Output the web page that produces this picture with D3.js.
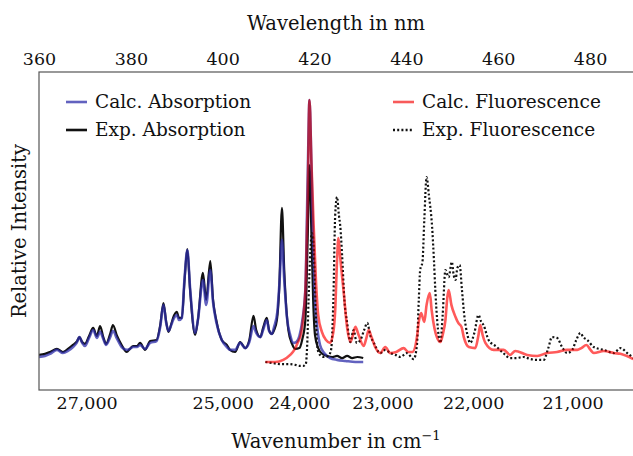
<!DOCTYPE html>
<html>
<head>
<meta charset="utf-8">
<script src="https://cdn.jsdelivr.net/npm/d3@7"></script>
<style>
  body { margin: 0; background: #fff; }
  text { font-family: "DejaVu Serif", serif; fill: #111; }
</style>
</head>
<body>
<div id="chart"></div>
<script>
// wavelength (nm), relative intensity
const expAbsorption = [
  [360.0,0.027],[361.3,0.031],[362.4,0.038],[363.9,0.050],[365.2,0.038],[366.3,0.050],[367.4,0.065],
  [368.3,0.080],[368.8,0.095],[369.4,0.076],[370.0,0.069],[370.9,0.099],[371.8,0.130],[372.6,0.099],
  [373.3,0.137],[374.0,0.095],[374.6,0.069],[375.5,0.107],[376.1,0.141],[377.0,0.099],[378.0,0.065],
  [379.1,0.038],[379.8,0.050],[380.5,0.061],[381.4,0.061],[382.0,0.073],[383.1,0.046],[384.2,0.080],
  [385.6,0.084],[386.4,0.141],[387.1,0.225],[387.7,0.153],[388.2,0.115],[388.8,0.145],[389.2,0.168],
  [390.0,0.191],[390.5,0.168],[391.1,0.168],[391.7,0.313],[392.3,0.431],[392.9,0.275],[394.0,0.103],
  [394.6,0.160],[395.7,0.340],[396.4,0.237],[397.3,0.385],[397.9,0.237],[398.6,0.160],[399.8,0.084],
  [400.9,0.065],[401.6,0.046],[402.7,0.038],[403.8,0.076],[404.9,0.053],[405.8,0.084],[406.7,0.176],
  [407.3,0.122],[408.2,0.095],[408.8,0.130],[409.6,0.168],[410.1,0.122],[410.7,0.107],[411.2,0.122],
  [411.8,0.160],[412.3,0.275],[412.9,0.588],[413.4,0.351],[414.3,0.122],[415.1,0.069],[415.8,0.050],
  [416.7,0.053],[417.3,0.084],[418.0,0.160],[418.5,0.466],[418.9,0.752],[419.3,0.504],[419.7,0.237],
  [420.1,0.103],[420.8,0.053],[421.7,0.031],[422.8,0.023],[423.9,0.019],[424.9,0.023],[426.0,0.015],
  [427.1,0.023],[428.2,0.015],[429.3,0.019],[430.6,0.015]
];

const calcAbsorption = [
  [360.0,0.019],[361.3,0.023],[362.4,0.031],[363.9,0.046],[365.2,0.034],[366.3,0.042],[367.4,0.057],
  [368.2,0.073],[368.8,0.095],[369.4,0.073],[370.0,0.061],[370.9,0.092],[371.8,0.122],[372.6,0.092],
  [373.3,0.115],[374.0,0.088],[374.6,0.065],[375.5,0.095],[376.1,0.118],[377.0,0.088],[378.0,0.057],
  [379.1,0.046],[379.8,0.050],[380.5,0.057],[381.4,0.057],[382.0,0.065],[383.1,0.050],[384.2,0.073],
  [385.6,0.080],[386.4,0.134],[387.1,0.218],[387.7,0.149],[388.2,0.118],[388.8,0.141],[389.2,0.160],
  [390.0,0.179],[390.5,0.160],[391.1,0.168],[391.7,0.321],[392.3,0.427],[392.9,0.282],[394.0,0.111],
  [394.6,0.160],[395.7,0.313],[396.4,0.218],[397.3,0.351],[397.9,0.229],[398.6,0.153],[399.8,0.084],
  [400.9,0.057],[401.6,0.046],[402.7,0.046],[403.8,0.073],[404.9,0.053],[405.8,0.076],[406.7,0.137],
  [407.3,0.111],[408.2,0.095],[408.8,0.122],[409.6,0.160],[410.1,0.118],[410.7,0.107],[411.2,0.134],
  [411.9,0.191],[412.4,0.313],[412.9,0.466],[413.4,0.313],[414.0,0.168],[414.7,0.103],[415.4,0.073],
  [416.0,0.076],[416.7,0.099],[417.3,0.153],[418.0,0.275],[418.5,0.695],[418.9,1.000],[419.3,0.771],
  [419.7,0.466],[420.1,0.237],[420.6,0.130],[421.2,0.065],[422.1,0.034],[423.4,0.015],[424.9,0.008],
  [426.7,0.004],[428.9,0.000],[430.6,0.000]
];

const calcFluorescence = [
  [409.3,0.000],[411.4,0.000],[413.2,0.008],[414.7,0.027],[415.6,0.046],[416.4,0.076],[417.1,0.111],
  [417.6,0.179],[418.1,0.313],[418.5,0.618],[418.9,1.000],[419.3,0.771],[419.8,0.523],[420.3,0.313],
  [420.8,0.179],[421.6,0.115],[422.5,0.084],[423.4,0.073],[424.1,0.115],[424.5,0.198],[424.9,0.389],
  [425.2,0.473],[425.6,0.397],[426.3,0.275],[427.1,0.130],[427.8,0.076],[428.3,0.099],[428.9,0.134],
  [429.6,0.103],[430.7,0.061],[431.3,0.092],[431.8,0.122],[432.4,0.095],[433.2,0.057],[434.3,0.034],
  [435.4,0.057],[436.5,0.034],[437.8,0.038],[439.4,0.053],[440.4,0.038],[441.3,0.038],[442.3,0.095],
  [442.7,0.153],[443.2,0.187],[443.9,0.153],[444.4,0.218],[445.1,0.263],[445.5,0.198],[446.1,0.130],
  [446.7,0.092],[447.4,0.076],[448.0,0.111],[448.5,0.160],[448.9,0.244],[449.2,0.275],[449.8,0.218],
  [450.7,0.172],[451.3,0.149],[452.0,0.134],[452.5,0.095],[453.6,0.057],[455.0,0.053],[455.7,0.103],
  [456.1,0.141],[456.6,0.103],[457.2,0.073],[459.0,0.046],[461.2,0.046],[462.6,0.027],[463.7,0.042],
  [466.3,0.027],[468.5,0.023],[470.6,0.034],[472.8,0.038],[475.0,0.046],[477.2,0.046],[478.1,0.053],
  [479.2,0.065],[480.1,0.046],[480.8,0.034],[483.0,0.042],[485.2,0.034],[486.6,0.031],[489.4,0.011]
];

const expFluorescence = [
  [409.3,0.000],[410.8,-0.004],[412.5,-0.008],[414.3,-0.008],[415.8,-0.011],[416.9,-0.015],[417.5,-0.015],
  [418.1,-0.008],[418.4,0.065],[418.7,0.237],[419.1,0.427],[419.4,0.492],[419.7,0.473],[420.0,0.351],
  [420.4,0.122],[420.7,0.046],[421.2,0.027],[422.1,0.019],[423.0,0.023],[423.6,0.046],[424.1,0.237],
  [424.5,0.561],[424.9,0.630],[425.3,0.561],[425.6,0.519],[426.0,0.408],[426.5,0.237],[427.1,0.149],
  [427.8,0.076],[428.5,0.122],[429.2,0.073],[430.0,0.084],[430.8,0.122],[431.5,0.149],[432.1,0.103],
  [432.9,0.073],[434.3,0.034],[435.4,0.046],[436.5,0.034],[437.6,0.027],[438.7,0.019],[440.1,0.034],
  [441.6,0.011],[442.3,0.065],[442.7,0.237],[443.0,0.351],[443.5,0.382],[443.9,0.542],[444.4,0.706],
  [444.9,0.637],[445.6,0.515],[446.0,0.389],[446.3,0.275],[446.7,0.160],[447.4,0.073],[447.9,0.179],
  [448.5,0.351],[449.2,0.324],[449.9,0.382],[450.3,0.332],[450.7,0.313],[451.1,0.359],[451.6,0.370],
  [452.1,0.275],[452.6,0.179],[453.3,0.103],[453.9,0.073],[454.8,0.111],[455.7,0.179],[456.3,0.153],
  [456.8,0.141],[457.9,0.084],[459.7,0.057],[461.1,0.034],[462.6,0.015],[463.9,0.015],[465.5,0.019],
  [467.0,0.011],[468.5,0.008],[469.9,0.008],[470.9,0.053],[471.7,0.095],[472.8,0.092],[473.9,0.057],
  [475.0,0.034],[476.1,0.046],[477.0,0.084],[477.9,0.111],[478.5,0.095],[479.4,0.084],[480.8,0.057],
  [483.0,0.046],[485.2,0.034],[486.6,0.053],[488.1,0.034],[489.4,0.015]
];

const wavelengthTicks = [360, 380, 400, 420, 440, 460, 480];
const wavenumberTicks = [27000, 25000, 24000, 23000, 22000, 21000];

const width = 633, height = 456;
const margin = {left: 39, top: 72, bottom: 390, right: 636};

const svg = d3.select("#chart").append("svg")
    .attr("width", width)
    .attr("height", height);

const x = d3.scaleLinear().domain([360, 490]).range([margin.left, margin.right]);
const y = d3.scaleLinear().domain([-0.107, 1.107]).range([margin.bottom, margin.top]);

svg.append("clipPath").attr("id", "plot-clip")
  .append("rect")
    .attr("x", margin.left).attr("y", margin.top)
    .attr("width", margin.right - margin.left)
    .attr("height", margin.bottom - margin.top);

// top axis: wavelength
let topAxis = svg.append("g")
    .attr("transform", "translate(0," + margin.top + ")")
    .call(d3.axisTop(x).tickValues(wavelengthTicks).tickSize(-5).tickPadding(7));

// bottom axis: wavenumber, placed at 1e7 / wn on the wavelength scale
let bottomAxis = svg.append("g")
    .attr("transform", "translate(0," + margin.bottom + ")")
    .call(d3.axisBottom(x)
        .tickValues(wavenumberTicks.map(d => 1e7 / d))
        .tickFormat(d => d3.format(",")(Math.round(1e7 / d)))
        .tickSize(-5).tickPadding(7));

[topAxis, bottomAxis].forEach(g => {
    g.select(".domain").remove();
    g.selectAll(".tick line").attr("stroke", "#c4c4c4").attr("stroke-width", 1);
    g.selectAll(".tick text")
        .attr("font-family", "DejaVu Serif")
        .attr("font-size", 17.5)
        .attr("fill", "#111");
});

const line = d3.line()
    .x(d => x(d[0]))
    .y(d => y(d[1]))
    .curve(d3.curveMonotoneX);

const blue = "rgb(45,45,170)";
const red = "rgb(186,45,45)";   // hard-light: salmon on white, crimson where it crosses the blue

let plot = svg.append("g").attr("clip-path", "url(#plot-clip)");

// white backdrop inside the clipped group, the blend needs it
plot.append("rect")
    .attr("x", margin.left).attr("y", margin.top)
    .attr("width", margin.right - margin.left)
    .attr("height", margin.bottom - margin.top)
    .attr("fill", "#fff");

plot.append("path").datum(expAbsorption)
    .attr("d", line)
    .attr("fill", "none")
    .attr("stroke", "#111")
    .attr("stroke-width", 2.2);

plot.append("path").datum(calcAbsorption)
    .attr("d", line)
    .attr("fill", "none")
    .attr("stroke", blue)
    .attr("stroke-opacity", 0.75)
    .attr("stroke-width", 2.6);

plot.append("path").datum(expFluorescence)
    .attr("d", line)
    .attr("fill", "none")
    .attr("stroke", "#111")
    .attr("stroke-width", 2.2)
    .attr("stroke-dasharray", "2,2.2");

plot.append("path").datum(calcFluorescence)
    .attr("d", line)
    .attr("fill", "none")
    .attr("stroke", red)
    .attr("stroke-width", 2.6)
    .style("mix-blend-mode", "hard-light");

// frame
svg.append("rect")
    .attr("x", margin.left).attr("y", margin.top)
    .attr("width", margin.right - margin.left + 10)
    .attr("height", margin.bottom - margin.top)
    .attr("fill", "none")
    .attr("stroke", "#555")
    .attr("stroke-width", 1.2);

// axis titles
svg.append("text")
    .attr("x", 336).attr("y", 30)
    .attr("text-anchor", "middle")
    .attr("font-size", 19.5)
    .text("Wavelength in nm");

let xt = svg.append("text")
    .attr("x", 336).attr("y", 448)
    .attr("text-anchor", "middle")
    .attr("font-size", 19.5);
xt.append("tspan").text("Wavenumber in cm");
xt.append("tspan").attr("dy", -8).attr("font-size", 13).text("\u22121");

svg.append("text")
    .attr("transform", "translate(26,231) rotate(-90)")
    .attr("text-anchor", "middle")
    .attr("font-size", 19.5)
    .text("Relative Intensity");

// legend
const legendItems = [
    {label: "Calc. Absorption", color: blue, opacity: 0.75, dash: null, lx: 66, ly: 102},
    {label: "Exp. Absorption", color: "#111", opacity: 1, dash: null, lx: 66, ly: 130},
    {label: "Calc. Fluorescence", color: "rgb(248,90,90)", opacity: 1, dash: null, lx: 393, ly: 102},
    {label: "Exp. Fluorescence", color: "#111", opacity: 1, dash: "2,2.2", lx: 393, ly: 130}
];

let legend = svg.append("g");
legendItems.forEach(item => {
    legend.append("line")
        .attr("x1", item.lx).attr("x2", item.lx + 21)
        .attr("y1", item.ly).attr("y2", item.ly)
        .attr("stroke", item.color)
        .attr("stroke-opacity", item.opacity)
        .attr("stroke-width", 2.6)
        .attr("stroke-dasharray", item.dash);
    legend.append("text")
        .attr("x", item.lx + 29).attr("y", item.ly + 6)
        .attr("font-size", 18.5)
        .text(item.label);
});
</script>
</body>
</html>
